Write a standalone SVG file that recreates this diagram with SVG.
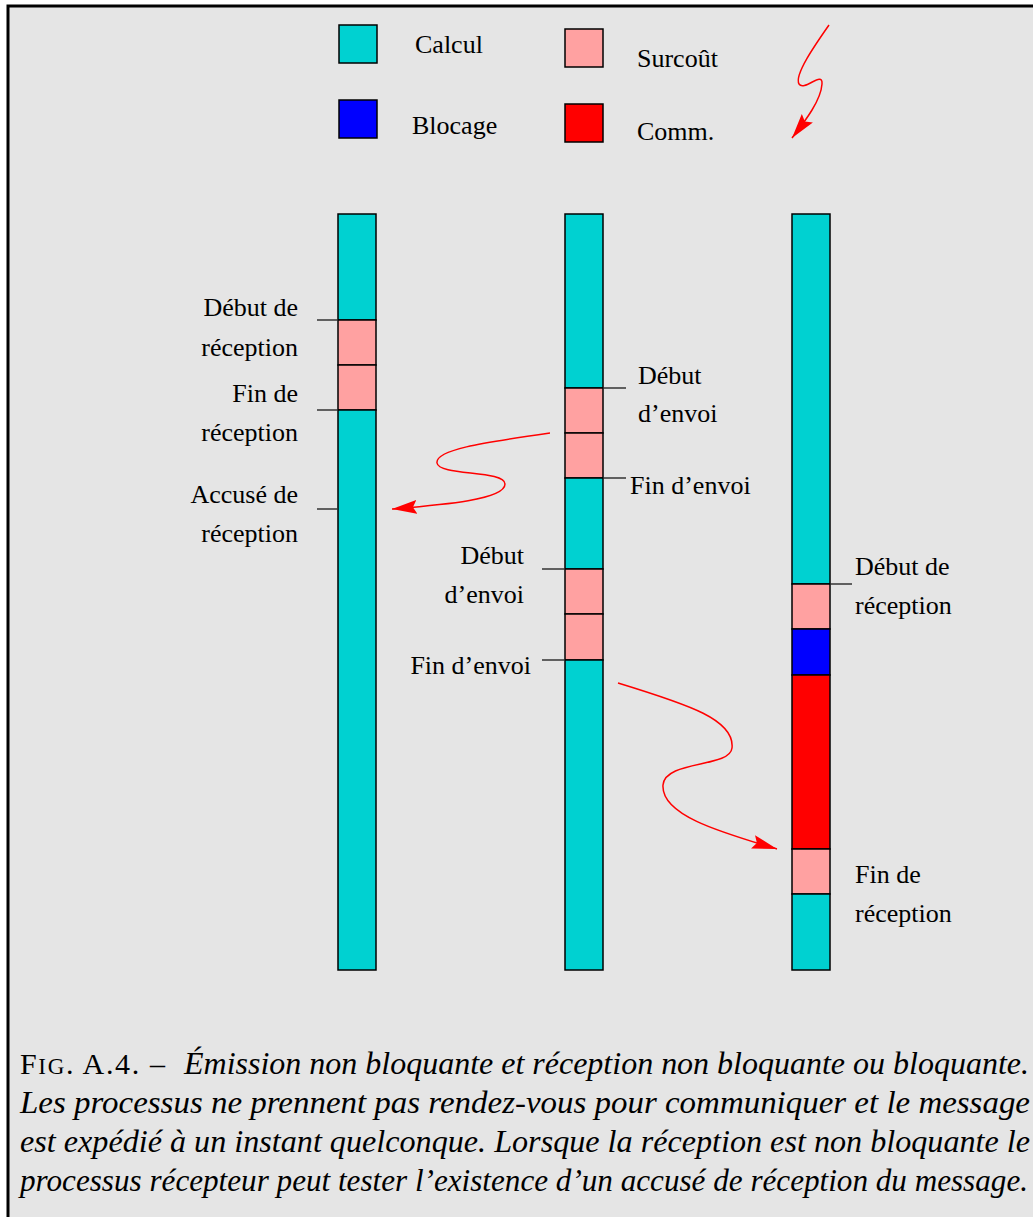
<svg xmlns="http://www.w3.org/2000/svg" width="1033" height="1217" viewBox="0 0 1033 1217">
<style>
.bar{stroke:#000;stroke-width:1.5}
.c{fill:#00d1d1}.p{fill:#ffa1a1}.b{fill:#0000ff}.r{fill:#ff0000}
.lab{font-family:"Liberation Serif","Times New Roman",serif;font-size:26px;fill:#000}
.end{text-anchor:end}
.tick{stroke:#333;stroke-width:1.5}
.msg{fill:none;stroke:#ff0000;stroke-width:1.5}
.cap{font-family:"Liberation Serif","Times New Roman",serif;font-size:31px;font-style:italic;fill:#000}
</style>
<defs>
<marker id="ah" markerUnits="userSpaceOnUse" markerWidth="26" markerHeight="14" refX="25" refY="7" orient="auto">
<path d="M0,0 L25,7 L0,14 L4,7 z" fill="#ff0000"/>
</marker>
</defs>
<rect width="1033" height="1217" fill="#ffffff"/>
<rect x="8" y="6" width="1040" height="1230" fill="#e5e5e5" stroke="#000" stroke-width="3"/>

<g id="legend">
<rect class="bar c" x="339" y="25" width="38" height="38"/>
<text class="lab" x="415" y="53">Calcul</text>
<rect class="bar b" x="339" y="100" width="38" height="38"/>
<text class="lab" x="412" y="134">Blocage</text>
<rect class="bar p" x="565" y="29" width="38" height="38"/>
<text class="lab" x="637" y="67">Surcoût</text>
<rect class="bar r" x="565" y="104" width="38" height="38"/>
<text class="lab" x="637" y="140">Comm.</text>
</g>

<g id="process1">
<rect class="bar c" x="338" y="214" width="38" height="106"/>
<rect class="bar p" x="338" y="320" width="38" height="45"/>
<rect class="bar p" x="338" y="365" width="38" height="45"/>
<rect class="bar c" x="338" y="410" width="38" height="560"/>
<line class="tick" x1="317" y1="320" x2="338" y2="320"/>
<line class="tick" x1="317" y1="410" x2="338" y2="410"/>
<line class="tick" x1="317" y1="509" x2="338" y2="509"/>
<text class="lab end" x="298" y="316">Début de</text>
<text class="lab end" x="298" y="356">réception</text>
<text class="lab end" x="298" y="402">Fin de</text>
<text class="lab end" x="298" y="441">réception</text>
<text class="lab end" x="298" y="503">Accusé de</text>
<text class="lab end" x="298" y="542">réception</text>
</g>

<g id="process2">
<rect class="bar c" x="565" y="214" width="38" height="174"/>
<rect class="bar p" x="565" y="388" width="38" height="45"/>
<rect class="bar p" x="565" y="433" width="38" height="45"/>
<rect class="bar c" x="565" y="478" width="38" height="91"/>
<rect class="bar p" x="565" y="569" width="38" height="45"/>
<rect class="bar p" x="565" y="614" width="38" height="46"/>
<rect class="bar c" x="565" y="660" width="38" height="310"/>
<line class="tick" x1="603" y1="388" x2="626" y2="388"/>
<line class="tick" x1="603" y1="478" x2="626" y2="478"/>
<line class="tick" x1="542" y1="569" x2="565" y2="569"/>
<line class="tick" x1="542" y1="660" x2="565" y2="660"/>
<text class="lab" x="638" y="384">Début</text>
<text class="lab" x="638" y="422">d’envoi</text>
<text class="lab" x="630" y="494">Fin d’envoi</text>
<text class="lab end" x="524" y="564">Début</text>
<text class="lab end" x="524" y="603">d’envoi</text>
<text class="lab end" x="531" y="674">Fin d’envoi</text>
</g>

<g id="process3">
<rect class="bar c" x="792" y="214" width="38" height="370"/>
<rect class="bar p" x="792" y="584" width="38" height="45"/>
<rect class="bar b" x="792" y="629" width="38" height="46"/>
<rect class="bar r" x="792" y="675" width="38" height="174"/>
<rect class="bar p" x="792" y="849" width="38" height="45"/>
<rect class="bar c" x="792" y="894" width="38" height="76"/>
<line class="tick" x1="830" y1="584" x2="852" y2="584"/>
<text class="lab" x="855" y="575">Début de</text>
<text class="lab" x="855" y="614">réception</text>
<text class="lab" x="855" y="883">Fin de</text>
<text class="lab" x="855" y="922">réception</text>
</g>

<g id="connectors">
<path class="msg" marker-end="url(#ah)" d="M829,25 C815,45 794,75 799,84 C804,92 823,70 822,84 C821,100 806,120 792,138"/>
<path class="msg" marker-end="url(#ah)" d="M550,433 C480,443 435,450 437,463 C439,476 505,470 505,484 C505,500 440,505 392,509"/>
<path class="msg" marker-end="url(#ah)" d="M618,683 C690,705 735,720 732,748 C730,768 665,760 663,785 C661,815 720,832 777,849"/>
</g>

<g id="caption">
<text class="lab" x="20" y="1074" style="font-size:30px" textLength="145" lengthAdjust="spacing">F<tspan style="font-size:23px">IG</tspan>. A.4. –</text>
<text class="cap" x="184" y="1074" textLength="845" lengthAdjust="spacingAndGlyphs">Émission non bloquante et réception non bloquante ou bloquante.</text>
<text class="cap" x="20" y="1113" textLength="1010" lengthAdjust="spacingAndGlyphs">Les processus ne prennent pas rendez-vous pour communiquer et le message</text>
<text class="cap" x="20" y="1152" textLength="1010" lengthAdjust="spacingAndGlyphs">est expédié à un instant quelconque. Lorsque la réception est non bloquante le</text>
<text class="cap" x="20" y="1191" textLength="1008" lengthAdjust="spacingAndGlyphs">processus récepteur peut tester l’existence d’un accusé de réception du message.</text>
</g>
</svg>
